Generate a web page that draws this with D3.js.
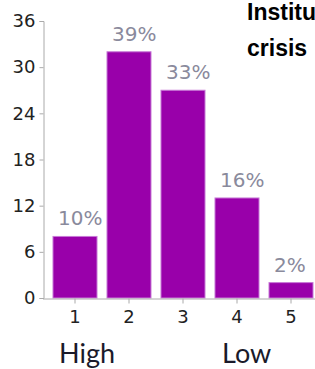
<!DOCTYPE html>
<html><head><meta charset="utf-8">
<script src="https://cdn.jsdelivr.net/npm/d3@7"></script>
<style>
html,body{margin:0;padding:0;background:#fff;overflow:hidden}
svg{display:block}
</style></head>
<body>
<script>
const categories = ["1","2","3","4","5"];
const counts = [8, 32, 27, 13, 2];
const percentLabels = ["10%","39%","33%","16%","2%"];
const yTicks = [0, 6, 12, 18, 24, 30, 36];
const scaleLabels = ["High", "Low"];
const titleLines = ["Institutional", "crisis"];

const W = 315, H = 369;
const svg = d3.select("body").append("svg").attr("width", W).attr("height", H);

const x = d3.scaleBand().domain(categories).range([48, 318]).paddingInner(0.185).paddingOuter(0.0925);
const y = d3.scaleLinear().domain([0, 36]).range([298, 21]);

// bars
svg.append("g").selectAll("rect").data(counts).join("rect")
  .attr("x", (d,i) => x(categories[i]))
  .attr("y", d => y(d))
  .attr("width", x.bandwidth())
  .attr("height", d => y(0) - y(d))
  .attr("fill", "#9900aa")
  .attr("stroke", "#c779d6")
  .attr("stroke-width", 1);

// y axis
const yAxis = svg.append("g").attr("transform", "translate(43.5,0)")
  .call(d3.axisLeft(y).tickValues(yTicks).tickSize(4).tickPadding(4));
yAxis.selectAll("path,line").attr("stroke", "#aaaaaa");
yAxis.selectAll("text").attr("font-family", "DejaVu Sans, sans-serif")
  .attr("font-size", 18).attr("fill", "#222");

// x axis
const xAxis = svg.append("g").attr("transform", "translate(0,298.5)")
  .call(d3.axisBottom(x).tickSize(5).tickSizeOuter(0).tickPadding(7));
xAxis.select("path.domain").attr("d", "M43,0.5H320");
xAxis.selectAll("path,line").attr("stroke", "#aaaaaa");
xAxis.selectAll("text").attr("font-family", "DejaVu Sans, sans-serif")
  .attr("font-size", 18).attr("fill", "#222");

// percent labels
svg.append("g").selectAll("text").data(counts).join("text")
  .attr("x", (d,i) => x(categories[i]) + 5)
  .attr("y", d => y(d) - 11)
  .attr("font-family", "DejaVu Sans, sans-serif")
  .attr("font-size", 20)
  .attr("fill", "#8a8a9c")
  .text((d,i) => percentLabels[i]);

// High / Low
svg.append("text").attr("x", 59).attr("y", 363)
  .attr("font-family", "Lato, sans-serif").attr("font-size", 27).attr("fill", "#1a1a2a")
  .text(scaleLabels[0]);
svg.append("text").attr("x", 222).attr("y", 363)
  .attr("font-family", "Lato, sans-serif").attr("font-size", 27).attr("fill", "#1a1a2a")
  .text(scaleLabels[1]);

// title (clipped at the right edge, as in the reference)
svg.append("text").attr("x", 247).attr("y", 20)
  .attr("font-family", "Liberation Sans, Arial, sans-serif").attr("font-weight", "bold")
  .attr("font-size", 23).attr("fill", "#000").text(titleLines[0]);
svg.append("text").attr("x", 247).attr("y", 56)
  .attr("font-family", "Liberation Sans, Arial, sans-serif").attr("font-weight", "bold")
  .attr("font-size", 23).attr("fill", "#000").text(titleLines[1]);
</script>
</body></html>
